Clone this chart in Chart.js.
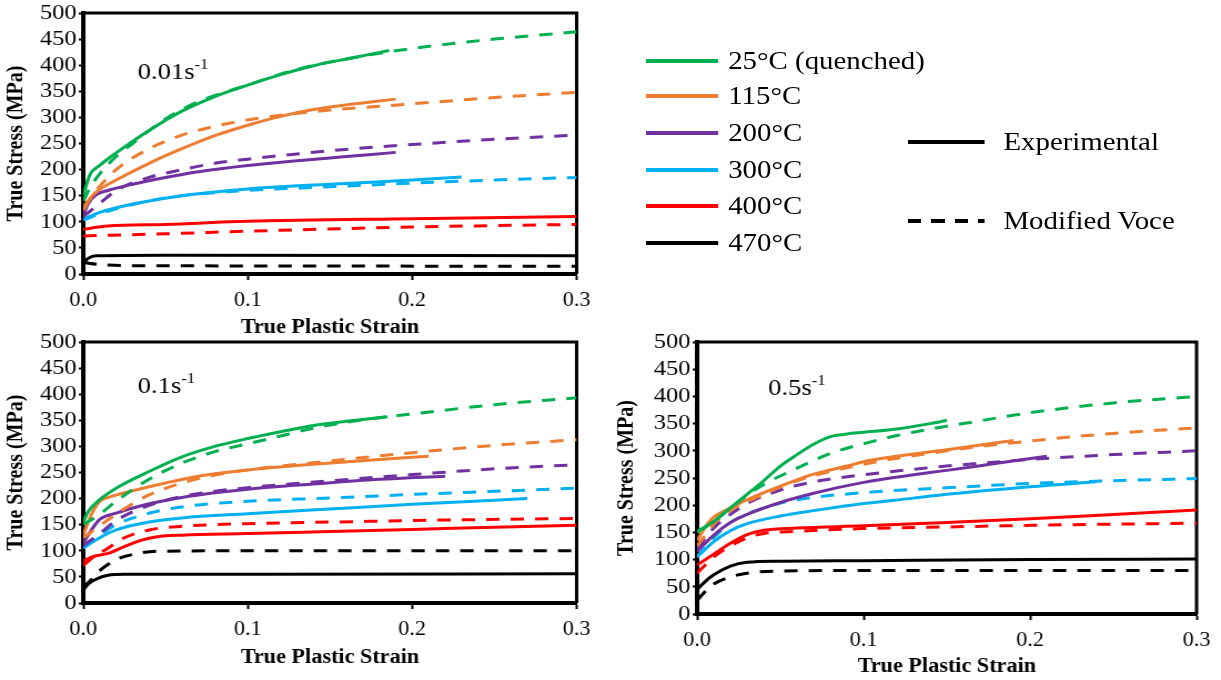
<!DOCTYPE html>
<html>
<head>
<meta charset="utf-8">
<script src="https://cdn.jsdelivr.net/npm/chart.js@4.4.1/dist/chart.umd.min.js"></script>
<style>
body{margin:0;background:#fff;width:1221px;height:680px;position:relative;overflow:hidden;font-family:"Liberation Serif","Times New Roman",serif;}
/* la figura original esta estirada en horizontal */
#stage{position:absolute;left:0;top:0;width:1100px;height:680px;transform:scaleX(1.11);transform-origin:0 0;}
.box{position:absolute;}
.leg{position:absolute;font-size:26px;line-height:30px;white-space:nowrap;color:#000;}
.sw{position:absolute;height:4px;width:65px;}
</style>
</head>
<body>
<div id="stage">
<div class="box" style="left:0;top:0"><canvas id="c001" width="541" height="340"></canvas></div>
<div class="box" style="left:0;top:325px"><canvas id="c01" width="541" height="355"></canvas></div>
<div class="box" style="left:550px;top:325px"><canvas id="c05" width="550" height="355"></canvas></div>
<div id="legend"></div>
</div>
<script>
/* DATOS */
var temps = ['25°C (quenched)', '115°C', '200°C', '300°C', '400°C', '470°C'];
var tempColors = ['#00B050', '#ED7D31', '#7030A0', '#00B0F0', '#FF0000', '#000000'];
var xTicks = [0, 0.1, 0.2, 0.3];
var yTicks = [0, 50, 100, 150, 200, 250, 300, 350, 400, 450, 500];

/* 0.01 s-1 : experimental, [strain, stress] */
var exp001 = [
    [[0,150],[0.004,190],[0.01,208],[0.02,232],[0.04,275],[0.06,312],[0.08,340],[0.1,362],[0.12,382],[0.14,399],[0.16,412],[0.186,428]],
    [[0,122],[0.005,148],[0.01,162],[0.02,180],[0.04,212],[0.06,240],[0.08,265],[0.1,285],[0.12,302],[0.14,315],[0.16,324],[0.19,335]],
    [[0,112],[0.003,135],[0.008,152],[0.015,160],[0.03,172],[0.05,185],[0.07,196],[0.1,208],[0.13,217],[0.16,225],[0.19,233]],
    [[0,105],[0.01,118],[0.02,127],[0.04,140],[0.06,150],[0.08,157],[0.1,163],[0.15,172],[0.2,180],[0.23,186]],
    [[0,85],[0.005,88],[0.015,92],[0.05,95],[0.1,101],[0.2,106],[0.3,110]],
    [[0,20],[0.003,30],[0.008,35],[0.05,36],[0.3,35]]
];
/* 0.01 s-1 : modified Voce */
var voce001 = [
    [[0,140],[0.005,170],[0.01,192],[0.02,225],[0.03,250],[0.05,297],[0.07,330],[0.1,362],[0.13,392],[0.16,412],[0.2,432],[0.25,450],[0.3,464]],
    [[0,128],[0.01,168],[0.02,200],[0.04,240],[0.06,266],[0.08,283],[0.1,295],[0.12,304],[0.15,314],[0.2,326],[0.25,338],[0.3,348]],
    [[0,110],[0.01,135],[0.02,160],[0.04,185],[0.06,200],[0.08,212],[0.1,220],[0.15,236],[0.2,248],[0.25,258],[0.3,266]],
    [[0,103],[0.01,115],[0.02,125],[0.04,140],[0.06,150],[0.1,160],[0.15,167],[0.2,174],[0.25,180],[0.3,185]],
    [[0,73],[0.05,77],[0.1,82],[0.2,90],[0.3,95]],
    [[0,22],[0.01,18],[0.03,16],[0.3,15]]
];

/* 0.1 s-1 */
var exp01 = [
    [[0,155],[0.003,175],[0.01,198],[0.02,220],[0.04,252],[0.06,280],[0.08,300],[0.1,315],[0.12,328],[0.14,340],[0.16,348],[0.185,357]],
    [[0,130],[0.005,170],[0.01,195],[0.015,202],[0.03,215],[0.05,230],[0.07,243],[0.1,255],[0.14,266],[0.18,275],[0.21,281]],
    [[0,115],[0.005,140],[0.01,160],[0.02,172],[0.04,190],[0.06,202],[0.08,211],[0.1,218],[0.14,228],[0.18,237],[0.22,243]],
    [[0,105],[0.01,125],[0.02,140],[0.04,155],[0.06,163],[0.1,171],[0.15,180],[0.2,189],[0.27,200]],
    [[0,80],[0.005,88],[0.015,95],[0.025,108],[0.035,120],[0.045,127],[0.06,130],[0.1,133],[0.15,137],[0.2,141],[0.25,145],[0.3,149]],
    [[0,25],[0.003,36],[0.008,46],[0.015,53],[0.025,55],[0.1,55],[0.3,56]]
];
var voce01 = [
    [[0,150],[0.01,170],[0.02,195],[0.04,237],[0.06,268],[0.08,290],[0.1,305],[0.12,320],[0.14,335],[0.16,346],[0.18,355],[0.2,362],[0.25,380],[0.3,393]],
    [[0,125],[0.01,148],[0.02,170],[0.03,190],[0.04,207],[0.06,230],[0.08,245],[0.1,255],[0.15,272],[0.2,288],[0.25,302],[0.3,313]],
    [[0,110],[0.01,133],[0.02,158],[0.04,187],[0.06,204],[0.08,214],[0.1,221],[0.15,234],[0.2,246],[0.25,257],[0.3,265]],
    [[0,110],[0.01,130],[0.02,150],[0.04,172],[0.06,184],[0.1,195],[0.15,201],[0.2,208],[0.25,214],[0.3,220]],
    [[0,72],[0.005,85],[0.015,105],[0.025,125],[0.04,140],[0.06,147],[0.1,152],[0.15,155],[0.2,158],[0.3,162]],
    [[0,30],[0.005,45],[0.01,62],[0.02,83],[0.03,93],[0.045,99],[0.1,100],[0.3,100]]
];

/* 0.5 s-1 */
var exp05 = [
    [[0,152],[0.01,170],[0.02,195],[0.03,220],[0.04,245],[0.05,272],[0.06,293],[0.07,312],[0.08,326],[0.09,331],[0.1,334],[0.12,340],[0.14,350],[0.15,356]],
    [[0,135],[0.005,160],[0.01,178],[0.02,195],[0.03,210],[0.05,235],[0.07,257],[0.09,272],[0.1,280],[0.12,290],[0.15,302],[0.19,319]],
    [[0,115],[0.01,145],[0.02,168],[0.03,183],[0.05,205],[0.07,222],[0.1,242],[0.13,256],[0.15,264],[0.18,277],[0.21,290]],
    [[0,105],[0.01,133],[0.02,153],[0.03,166],[0.05,180],[0.07,190],[0.1,203],[0.13,213],[0.15,220],[0.2,234],[0.24,243]],
    [[0,90],[0.01,110],[0.02,130],[0.03,146],[0.04,154],[0.06,158],[0.1,162],[0.15,168],[0.2,175],[0.25,183],[0.3,191]],
    [[0,45],[0.005,60],[0.01,72],[0.02,88],[0.03,95],[0.05,97],[0.1,98],[0.2,100],[0.3,101]]
];
var voce05 = [
    [[0,150],[0.01,170],[0.02,195],[0.03,218],[0.04,238],[0.06,268],[0.08,295],[0.1,313],[0.12,328],[0.14,340],[0.16,350],[0.2,370],[0.25,388],[0.3,400]],
    [[0,125],[0.005,145],[0.01,165],[0.02,190],[0.04,220],[0.06,245],[0.1,275],[0.15,300],[0.2,318],[0.25,332],[0.3,342]],
    [[0,120],[0.01,158],[0.02,183],[0.03,203],[0.05,228],[0.07,243],[0.1,256],[0.13,266],[0.15,272],[0.2,284],[0.25,293],[0.3,300]],
    [[0,105],[0.01,140],[0.02,168],[0.04,195],[0.06,210],[0.1,223],[0.15,232],[0.2,240],[0.25,245],[0.3,249]],
    [[0,75],[0.01,105],[0.02,125],[0.03,140],[0.04,148],[0.06,152],[0.1,157],[0.15,160],[0.2,163],[0.3,167]],
    [[0,25],[0.005,42],[0.01,55],[0.02,68],[0.03,75],[0.05,79],[0.1,80],[0.3,80]]
];

var FONT = '"Liberation Serif", "Times New Roman", serif';

/* marco del area de grafico (lados superior y derecho) */
var framePlugin = {
    id: 'frame',
    beforeDatasetsDraw: function (chart) {
        var a = chart.chartArea, ctx = chart.ctx;
        ctx.save();
        ctx.strokeStyle = '#000';
        ctx.lineWidth = 3;
        ctx.beginPath();
        ctx.moveTo(a.left, a.top);
        ctx.lineTo(a.right, a.top);
        ctx.lineTo(a.right, a.bottom);
        ctx.stroke();
        ctx.restore();
    }
};

/* texto de la velocidad de deformacion, con superindice */
var rateLabelPlugin = {
    id: 'rateLabel',
    afterDraw: function (chart, args, opts) {
        var a = chart.chartArea, ctx = chart.ctx;
        var x = a.left + opts.dx, y = a.top + opts.dy;
        ctx.save();
        ctx.fillStyle = '#000';
        ctx.textBaseline = 'alphabetic';
        ctx.font = '24px ' + FONT;
        ctx.fillText(opts.text + 's', x, y);
        var w = ctx.measureText(opts.text + 's').width;
        ctx.font = '15px ' + FONT;
        ctx.fillText('-1', x + w, y - 10);
        ctx.restore();
    }
};

function toPoints(arr) {
    return arr.map(function (p) { return {x: p[0], y: p[1]}; });
}

function buildDatasets(exp, voce) {
    var ds = [];
    for (var i = 0; i < temps.length; i++) {
        ds.push({
            label: temps[i] + ' Experimental',
            data: toPoints(exp[i]),
            borderColor: tempColors[i],
            borderWidth: 3,
            pointRadius: 0,
            cubicInterpolationMode: 'monotone',
            fill: false
        });
        ds.push({
            label: temps[i] + ' Modified Voce',
            data: toPoints(voce[i]),
            borderColor: tempColors[i],
            borderWidth: 3,
            borderDash: [12, 10],
            pointRadius: 0,
            cubicInterpolationMode: 'monotone',
            fill: false
        });
    }
    return ds;
}

function showGraph(id, exp, voce, rate, pad, xH, yW, titlePad, dx, dy) {
    var ctx = document.getElementById(id);
    new Chart(ctx, {
        type: 'line',
        data: {datasets: buildDatasets(exp, voce)},
        plugins: [framePlugin, rateLabelPlugin],
        options: {
            responsive: false,
            animation: false,
            layout: {padding: pad},
            plugins: {
                legend: {display: false},
                tooltip: {enabled: false},
                rateLabel: {text: rate, dx: dx, dy: dy}
            },
            scales: {
                x: {
                    type: 'linear',
                    min: 0,
                    max: 0.3,
                    afterFit: function (s) { s.height = xH; },
                    afterBuildTicks: function (s) { s.ticks = xTicks.map(function (v) { return {value: v}; }); },
                    ticks: {
                        callback: function (v) { return Number(v).toFixed(1); },
                        font: {family: FONT, size: 20},
                        color: '#000',
                        padding: 9,
                        autoSkip: false,
                        maxRotation: 0
                    },
                    grid: {drawOnChartArea: false, tickLength: 6, tickWidth: 2, tickColor: '#000'},
                    border: {color: '#000', width: 4},
                    title: {
                        display: true,
                        text: 'True Plastic Strain',
                        font: {family: FONT, size: 20, weight: 'bold'},
                        color: '#000',
                        padding: {top: 0, bottom: titlePad}
                    }
                },
                y: {
                    min: 0,
                    max: 500,
                    afterFit: function (s) { s.width = yW; },
                    afterBuildTicks: function (s) { s.ticks = yTicks.map(function (v) { return {value: v}; }); },
                    ticks: {
                        font: {family: FONT, size: 22, lineHeight: 1},
                        color: '#000',
                        padding: 2,
                        autoSkip: false
                    },
                    grid: {drawOnChartArea: false, tickLength: 4, tickWidth: 2, tickColor: '#000'},
                    border: {color: '#000', width: 4},
                    title: {
                        display: true,
                        text: 'True Stress (MPa)',
                        font: {family: FONT, size: 20, weight: 'bold'},
                        color: '#000',
                        padding: {top: 3, bottom: 0}
                    }
                }
            }
        }
    });
}

/* LEYENDA */
function showLegend() {
    var html = '';
    var rows = [61, 96, 133, 170, 206, 243];
    for (var i = 0; i < temps.length; i++) {
        html += '<div class="sw" style="left:582px;top:' + (rows[i] - 2) + 'px;background:' + tempColors[i] + '"></div>';
        html += '<div class="leg" style="left:656px;top:' + (rows[i] - 15) + 'px">' + temps[i] + '</div>';
    }
    html += '<div class="sw" style="left:818px;top:140px;width:69px;background:#000"></div>';
    html += '<div class="leg" style="left:904px;top:127px">Experimental</div>';
    html += '<div class="sw" style="left:818px;top:219px;width:69px;background:repeating-linear-gradient(to right,#000 0 12px,transparent 12px 21px)"></div>';
    html += '<div class="leg" style="left:904px;top:206px">Modified Voce</div>';
    document.getElementById('legend').innerHTML = html;
}

showGraph('c001', exp001, voce001, '0.01', {top: 13, right: 17, left: 0, bottom: 0}, 66, 75, 0, 49, 66);
showGraph('c01', exp01, voce01, '0.1', {top: 17, right: 17, left: 0, bottom: 0}, 77, 75, 10, 49, 51);
showGraph('c05', exp05, voce05, '0.5', {top: 17, right: 22, left: 0, bottom: 0}, 66, 78, 1, 64, 53);
showLegend();
</script>
</body>
</html>
